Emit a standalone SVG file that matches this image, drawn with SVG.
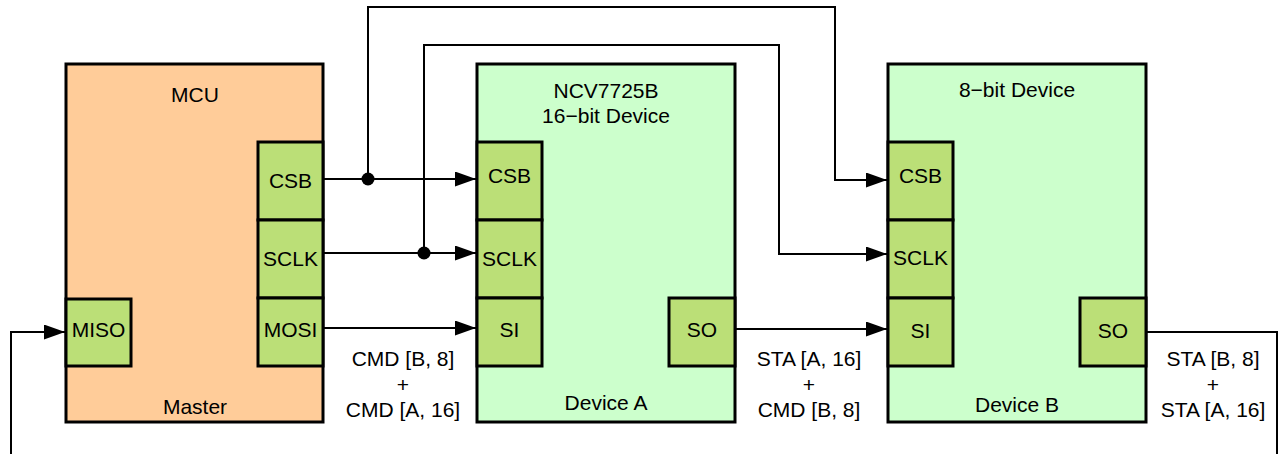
<svg xmlns="http://www.w3.org/2000/svg" width="1280" height="454" viewBox="0 0 1280 454">
<defs>
<style>
text{font-family:"Liberation Sans",Arial,sans-serif;font-size:21px;fill:#000;text-anchor:middle}
.box{stroke:#000;stroke-width:3}
.mcu{fill:#FFCC99}
.dev{fill:#CCFFCC}
.pin{fill:#BBDF77;stroke:#000;stroke-width:3}
.wire{fill:none;stroke:#000;stroke-width:2}
.arr{marker-end:url(#ah)}
</style>
<marker id="ah" markerUnits="userSpaceOnUse" markerWidth="22" markerHeight="16" refX="21" refY="7.5" orient="auto">
<path d="M0,0 L21,7.5 L0,15 Z" fill="#000"/>
</marker>
</defs>
<rect width="1280" height="454" fill="#fff"/>

<g id="mcu">
<rect class="box mcu" x="66" y="64" width="257" height="358"/>
<text x="195" y="102">MCU</text>
<text x="195" y="414">Master</text>
<rect class="pin" x="258" y="142" width="65" height="78"/>
<text x="290.5" y="188">CSB</text>
<rect class="pin" x="258" y="220" width="65" height="78"/>
<text x="290.5" y="266">SCLK</text>
<rect class="pin" x="258" y="298" width="65" height="68"/>
<text x="290.5" y="337">MOSI</text>
<rect class="pin" x="66" y="299" width="65" height="67"/>
<text x="98.5" y="337">MISO</text>
</g>

<g id="deviceA">
<rect class="box dev" x="477" y="64" width="258" height="358"/>
<text x="606" y="98">NCV7725B</text>
<text x="606" y="123">16−bit Device</text>
<text x="606" y="410">Device A</text>
<rect class="pin" x="477" y="142" width="65" height="78"/>
<text x="509.5" y="183">CSB</text>
<rect class="pin" x="477" y="220" width="65" height="78"/>
<text x="509.5" y="266">SCLK</text>
<rect class="pin" x="477" y="298" width="65" height="68"/>
<text x="509.5" y="337">SI</text>
<rect class="pin" x="669" y="298" width="66" height="68"/>
<text x="702" y="337">SO</text>
</g>

<g id="deviceB">
<rect class="box dev" x="888" y="64" width="258" height="358"/>
<text x="1017" y="97">8−bit Device</text>
<text x="1017" y="412">Device B</text>
<rect class="pin" x="888" y="142" width="65" height="78"/>
<text x="920.5" y="183">CSB</text>
<rect class="pin" x="888" y="220" width="65" height="78"/>
<text x="920.5" y="265">SCLK</text>
<rect class="pin" x="888" y="298" width="65" height="68"/>
<text x="920.5" y="338">SI</text>
<rect class="pin" x="1080" y="298" width="66" height="68"/>
<text x="1113" y="338">SO</text>
</g>

<g id="connectors">
<path class="wire arr" d="M324,179 H476"/>
<path class="wire arr" d="M368,179 V7 H835 V180 H887"/>
<path class="wire arr" d="M324,253 H476"/>
<path class="wire arr" d="M424,253 V45 H779 V254 H887"/>
<path class="wire arr" d="M324,328 H476"/>
<path class="wire arr" d="M736,329 H887"/>
<path class="wire" d="M1147,332 H1277 V454"/>
<path class="wire arr" d="M11,454 V332 H65"/>
<circle cx="368" cy="179" r="6.5" fill="#000"/>
<circle cx="424" cy="253" r="6.5" fill="#000"/>
</g>

<g id="labels">
<text x="403" y="366">CMD [B, 8]</text>
<text x="403" y="392">+</text>
<text x="403" y="417">CMD [A, 16]</text>
<text x="809" y="366">STA [A, 16]</text>
<text x="809" y="392">+</text>
<text x="809" y="417">CMD [B, 8]</text>
<text x="1213" y="366">STA [B, 8]</text>
<text x="1213" y="392">+</text>
<text x="1213" y="417">STA [A, 16]</text>
</g>
</svg>
